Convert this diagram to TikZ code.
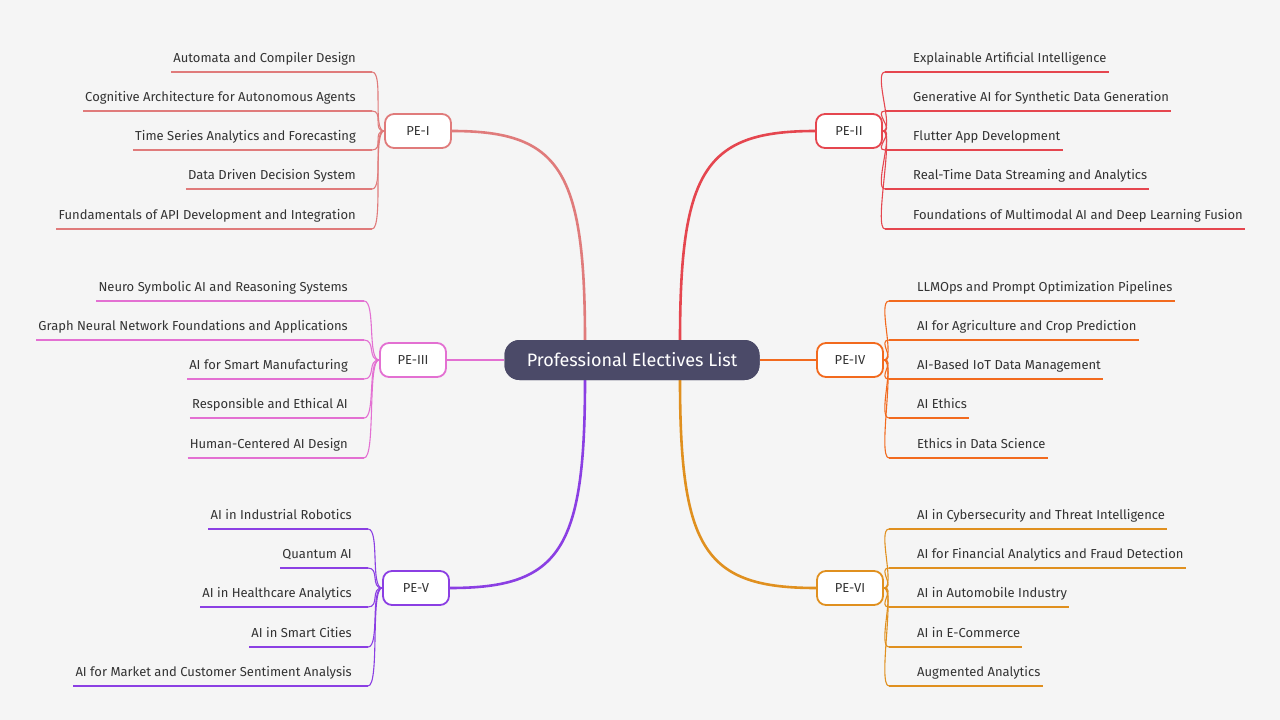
\documentclass[tikz,border=0pt]{standalone}
\usepackage{fontspec}
\setmainfont{Fira Sans}
\definecolor{bg}{HTML}{F5F5F5}
\definecolor{tc}{HTML}{333333}
\definecolor{cA}{HTML}{E07B7B}
\definecolor{cB}{HTML}{E5464F}
\definecolor{cC}{HTML}{E370D2}
\definecolor{cD}{HTML}{F26A1E}
\definecolor{cE}{HTML}{8B3FE3}
\definecolor{cF}{HTML}{E0901F}
\definecolor{cent}{HTML}{4B4A68}
\tikzset{
  penode/.style={draw=#1, line width=1.8pt, fill=white, rounded corners=9pt, minimum width=66pt, minimum height=34pt, font=\fontsize{13}{15}\selectfont, text=tc},
  leaftext/.style={font=\fontsize{13}{15}\selectfont, text=tc, inner sep=0pt},
  thinline/.style={draw=#1, line width=1.1pt},
  mainline/.style={draw=#1, line width=2.6pt}
}
% left leaf: name, color, pe, xend, ytext, text
\newcommand\lfL[6]{%
  \node[leaftext, anchor=base east] (#1) at (#4-16, #5+5) {#6};
  \coordinate (#1e) at (#4, #5+15);
  \draw[thinline=#2] ([xshift=-2pt]#1.west |- #1e) -- (#1e);
  \draw[thinline=#2] (#3.west) .. controls ([xshift=-12pt]#3.west) and ([xshift=12pt]#1e) .. (#1e);
}
% right leaf: name, color, pe, xstart, ytext, text
\newcommand\lfR[6]{%
  \node[leaftext, anchor=base west] (#1) at (#4+28, #5+5) {#6};
  \coordinate (#1e) at (#4, #5+15);
  \draw[thinline=#2] (#1e) -- ([xshift=2pt]#1.east |- #1e);
  \draw[thinline=#2] (#3.east) .. controls ([xshift=12pt]#3.east) and ([xshift=-12pt]#1e) .. (#1e);
}
\begin{document}
\begin{tikzpicture}[x=1pt,y=-1pt]
\fill[bg] (0,0) rectangle (1280,720);
\useasboundingbox (0,0) rectangle (1280,720);
\node[fill=cent, rounded corners=15pt, minimum width=255pt, minimum height=40pt, text=white, font=\fontsize{18}{20}\selectfont] (c) at (632,360) {Professional Electives List};
\node[penode=cA] (p1) at (418,131) {PE-I};
\node[penode=cB] (p2) at (849,131) {PE-II};
\node[penode=cC] (p3) at (413,360) {PE-III};
\node[penode=cD] (p4) at (850,360) {PE-IV};
\node[penode=cE] (p5) at (416,588) {PE-V};
\node[penode=cF] (p6) at (850,588) {PE-VI};
\coordinate (c1) at (585,341); \coordinate (c2) at (680,341);
\coordinate (c5) at (585,380); \coordinate (c6) at (680,380);
\draw[mainline=cA] (c1) .. controls (585,170) and (560,131) .. (p1.east);
\draw[mainline=cB] (c2) .. controls (680,170) and (705,131) .. (p2.west);
\draw[mainline=cC] (c.west) -- (p3.east);
\draw[mainline=cD] (c.east) -- (p4.west);
\draw[mainline=cE] (c5) .. controls (585,550) and (560,588) .. (p5.east);
\draw[mainline=cF] (c6) .. controls (680,550) and (705,588) .. (p6.west);
\node[fill=cent, rounded corners=15pt, minimum width=255pt, minimum height=40pt, text=white, font=\fontsize{18}{20}\selectfont] at (632,360) {Professional Electives List};
% PE-I
\lfL{a1}{cA}{p1}{372}{57}{Automata and Compiler Design}
\lfL{a2}{cA}{p1}{372}{96}{Cognitive Architecture for Autonomous Agents}
\lfL{a3}{cA}{p1}{372}{135}{Time Series Analytics and Forecasting}
\lfL{a4}{cA}{p1}{372}{174}{Data Driven Decision System}
\lfL{a5}{cA}{p1}{372}{214}{Fundamentals of API Development and Integration}
% PE-III
\lfL{c1l}{cC}{p3}{364}{286}{Neuro Symbolic AI and Reasoning Systems}
\lfL{c2l}{cC}{p3}{364}{325}{Graph Neural Network Foundations and Applications}
\lfL{c3l}{cC}{p3}{364}{364}{AI for Smart Manufacturing}
\lfL{c4l}{cC}{p3}{364}{403}{Responsible and Ethical AI}
\lfL{c5l}{cC}{p3}{364}{443}{Human-Centered AI Design}
% PE-V
\lfL{e1}{cE}{p5}{368}{514}{AI in Industrial Robotics}
\lfL{e2}{cE}{p5}{368}{553}{Quantum AI}
\lfL{e3}{cE}{p5}{368}{592}{AI in Healthcare Analytics}
\lfL{e4}{cE}{p5}{368}{632}{AI in Smart Cities}
\lfL{e5}{cE}{p5}{368}{671}{AI for Market and Customer Sentiment Analysis}
% PE-II
\lfR{b1}{cB}{p2}{885}{57}{Explainable Artificial Intelligence}
\lfR{b2}{cB}{p2}{885}{96}{Generative AI for Synthetic Data Generation}
\lfR{b3}{cB}{p2}{885}{135}{Flutter App Development}
\lfR{b4}{cB}{p2}{885}{174}{Real-Time Data Streaming and Analytics}
\lfR{b5}{cB}{p2}{885}{214}{Foundations of Multimodal AI and Deep Learning Fusion}
% PE-IV
\lfR{d1}{cD}{p4}{889}{286}{LLMOps and Prompt Optimization Pipelines}
\lfR{d2}{cD}{p4}{889}{325}{AI for Agriculture and Crop Prediction}
\lfR{d3}{cD}{p4}{889}{364}{AI-Based IoT Data Management}
\lfR{d4}{cD}{p4}{889}{403}{AI Ethics}
\lfR{d5}{cD}{p4}{889}{443}{Ethics in Data Science}
% PE-VI
\lfR{f1}{cF}{p6}{889}{514}{AI in Cybersecurity and Threat Intelligence}
\lfR{f2}{cF}{p6}{889}{553}{AI for Financial Analytics and Fraud Detection}
\lfR{f3}{cF}{p6}{889}{592}{AI in Automobile Industry}
\lfR{f4}{cF}{p6}{889}{632}{AI in E-Commerce}
\lfR{f5}{cF}{p6}{889}{671}{Augmented Analytics}
\end{tikzpicture}
\end{document}
